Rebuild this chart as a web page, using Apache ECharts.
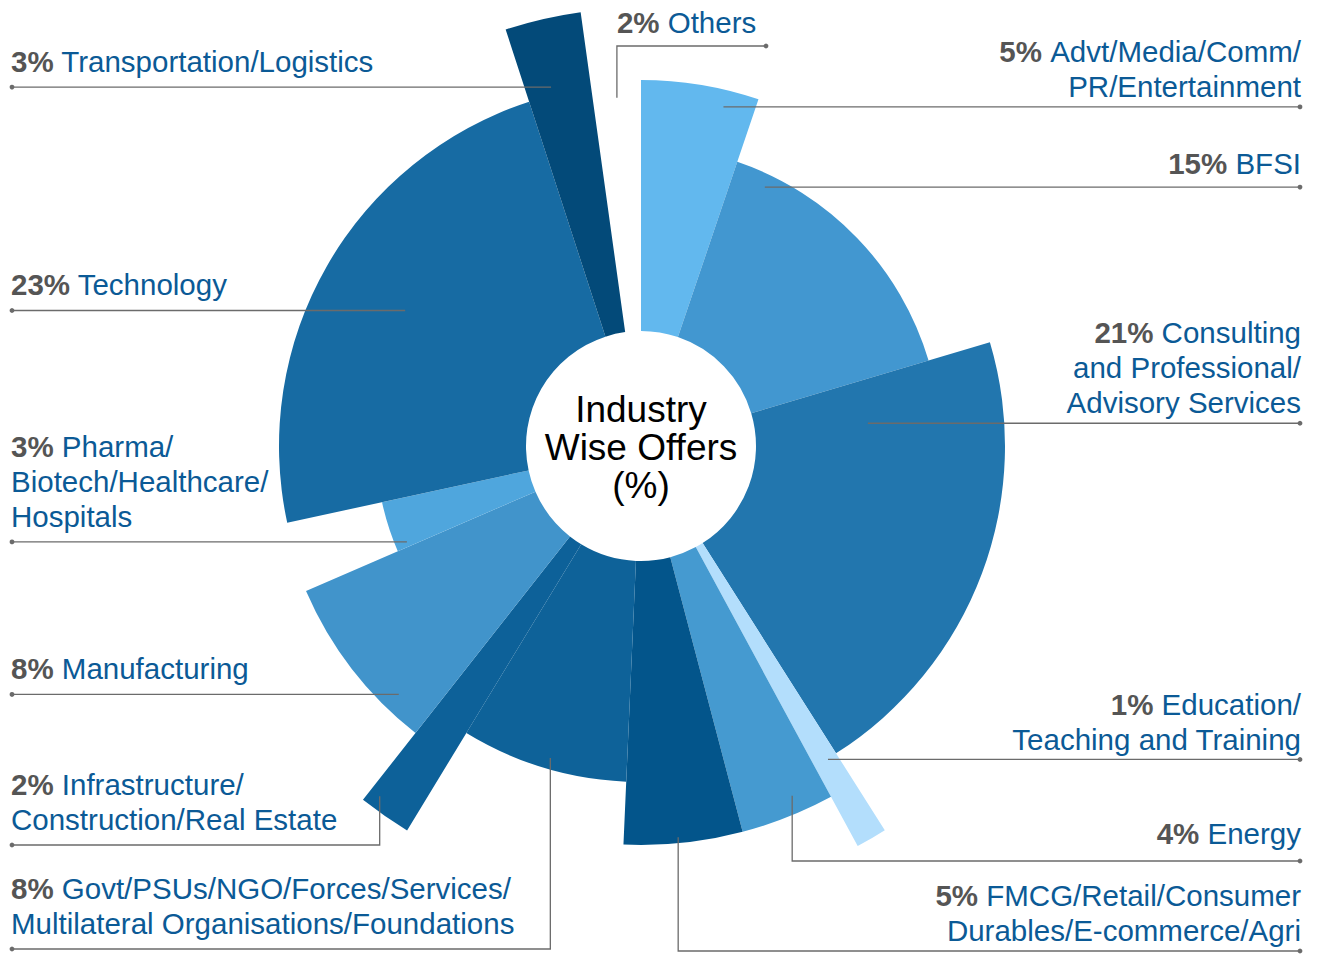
<!DOCTYPE html>
<html>
<head>
<meta charset="utf-8">
<title>Industry Wise Offers</title>
<script src="https://cdn.jsdelivr.net/npm/echarts@6/dist/echarts.min.js"></script>
<style>
  html, body { margin: 0; padding: 0; background: #fff; }
  #app { width: 1319px; height: 956px; }
</style>
</head>
<body>
<div id="app"></div>
<script>
// industries, clockwise from 12 o'clock
const industries = [
    'Advt/Media/Comm/\nPR/Entertainment',
    'BFSI',
    'Consulting\nand Professional/\nAdvisory Services',
    'Education/\nTeaching and Training',
    'Energy',
    'FMCG/Retail/Consumer\nDurables/E-commerce/Agri',
    'Govt/PSUs/NGO/Forces/Services/\nMultilateral Organisations/Foundations',
    'Infrastructure/\nConstruction/Real Estate',
    'Manufacturing',
    'Pharma/\nBiotech/Healthcare/\nHospitals',
    'Technology',
    'Transportation/Logistics',
    'Others'
];
// share of offers (%)
const shares = [5.2, 15.2, 20.6, 1.1, 3.8, 4.8, 8.0, 1.9, 7.9, 3.1, 23.4, 2.8, 2.2];
// how far each slice reaches out (radius axis units)
const reach = [366, 300, 364, 455, 399, 399, 336, 450, 365, 265, 362, 438, 350];

// styles
const palette = [
    '#62b8ee', '#4297d0', '#2276ae', '#b3defc', '#459ad0', '#03558b', '#0e6299',
    '#0d6199', '#4194cb', '#4fa6dd', '#176ba3', '#034a79', 'none'
];
const HOLE = 115;
const EDGE_LEFT = 12;
const EDGE_RIGHT = 1300;
const LINE_COLOR = '#6b6b6b';
const FONT = '"Liberation Sans", Arial, Helvetica, sans-serif';
const LABEL_SIZE = 29.5;

// where each leader line starts (radius + fraction across the slice) and how it runs
// gap = distance from the last text baseline to the line
const labelSpots = [
    { side: 'right', r: 349, at: 0.73, gap: 10.5 },
    { side: 'right', r: 287, at: 0.125, gap: 13.4 },
    { side: 'right', r: 228, at: 0.146, gap: 10.5 },
    { side: 'right', r: 365, at: 0.4, gap: 10.3 },
    { side: 'right', r: 381, at: 0.37, runY: 861, gap: 17.5 },
    { side: 'right', r: 393, at: 0.54, runY: 951, gap: 10.5 },
    { side: 'left', r: 325, at: 0.475, runY: 949, gap: 15.5 },
    { side: 'left', r: 437, at: 0.79, runY: 845, gap: 15.5 },
    { side: 'left', r: 347, at: 0.215, gap: 15.5 },
    { side: 'left', r: 253, at: 0.1, gap: 15.5 },
    { side: 'left', r: 272, at: 0.5, gap: 15.5 },
    { side: 'left', r: 370, at: 0.39, gap: 15.4 },
    { side: 'right', r: 349, at: 0.5, runY: 46, endX: 766, textAtAnchor: true, gap: 13.4 }
];

// cumulative start / end of each slice on the angle axis
let cursor = 0;
const sliceData = shares.map(function(s, i) {
    let item = [cursor, cursor + s, reach[i], i];
    cursor += s;
    return item;
});

function dist(a, b) {
    return Math.sqrt((a[0] - b[0]) * (a[0] - b[0]) + (a[1] - b[1]) * (a[1] - b[1]));
}

// draw one slice as a sector using the polar scales
function renderSlice(params, api) {
    let start = api.value(0);
    let end = api.value(1);
    let center = api.coord([0, start]);
    let inner = api.coord([HOLE, start]);
    let outer = api.coord([api.value(2), start]);
    let tail = api.coord([api.value(2), end]);
    let a0 = Math.atan2(outer[1] - center[1], outer[0] - center[0]);
    let a1 = Math.atan2(tail[1] - center[1], tail[0] - center[0]);
    if (a1 <= a0) {
        a1 += Math.PI * 2;
    }
    return {
        type: 'sector',
        shape: {
            cx: center[0], cy: center[1],
            r0: dist(inner, center), r: dist(outer, center),
            startAngle: a0, endAngle: a1, clockwise: true
        },
        style: { fill: palette[api.value(3)] }
    };
}

// leader line + dot + text for one slice
function renderLabel(params, api) {
    let i = api.value(3);
    let spot = labelSpots[i];
    let start = api.value(0);
    let end = api.value(1);
    let p = api.coord([spot.r, start + (end - start) * spot.at]);
    let bent = spot.runY != null;
    let runY = bent ? spot.runY : p[1];
    let endX = spot.endX != null ? spot.endX : (spot.side === 'left' ? EDGE_LEFT : EDGE_RIGHT);
    let points = bent ? [p, [p[0], runY], [endX, runY]] : [p, [endX, runY]];
    let textX = spot.textAtAnchor ? p[0] : (spot.side === 'left' ? endX - 1 : endX + 1);
    let align = (spot.side === 'left' || spot.textAtAnchor) ? 'left' : 'right';
    let pct = Math.round(shares[i]) + '%';
    return {
        type: 'group',
        children: [{
            type: 'polyline',
            shape: { points: points },
            style: { stroke: LINE_COLOR, lineWidth: 1.3, fill: 'none' }
        }, {
            type: 'circle',
            shape: { cx: endX, cy: runY, r: 2.4 },
            style: { fill: LINE_COLOR }
        }, {
            type: 'text',
            x: textX,
            // text box bottom sits ~7.5px under the last baseline
            y: runY - spot.gap + 7.5,
            style: {
                text: '{p|' + pct + '}{n| ' + industries[i] + '}',
                align: align,
                verticalAlign: 'bottom',
                fill: '#0b5a96',
                font: LABEL_SIZE + 'px ' + FONT,
                lineHeight: 35,
                rich: {
                    p: { fill: '#555555', fontSize: LABEL_SIZE, fontWeight: 'bold', fontFamily: FONT, lineHeight: 35 },
                    n: { fill: '#0b5a96', fontSize: LABEL_SIZE, fontFamily: FONT, lineHeight: 35 }
                }
            }
        }]
    };
}

let myChart = echarts.init(document.getElementById('app'), null, { renderer: 'svg' });

myChart.setOption({
    backgroundColor: '#ffffff',
    animation: false,
    polar: {
        center: [641, 446],
        radius: 460
    },
    angleAxis: {
        type: 'value', min: 0, max: 100, startAngle: 90, clockwise: true,
        show: false, axisLine: { show: false }, splitLine: { show: false },
        axisLabel: { show: false }, axisTick: { show: false }
    },
    radiusAxis: {
        type: 'value', min: 0, max: 460,
        show: false, axisLine: { show: false }, splitLine: { show: false },
        axisLabel: { show: false }, axisTick: { show: false }
    },
    graphic: [{
        type: 'text',
        x: 641,
        y: 447,
        style: {
            text: 'Industry\nWise Offers\n(%)',
            align: 'center',
            verticalAlign: 'middle',
            fill: '#000000',
            font: '37px ' + FONT,
            lineHeight: 38
        }
    }],
    series: [{
        name: 'slices',
        type: 'custom',
        coordinateSystem: 'polar',
        encode: { angle: [0, 1], radius: 2 },
        renderItem: renderSlice,
        data: sliceData,
        z: 2
    }, {
        name: 'labels',
        type: 'custom',
        coordinateSystem: 'polar',
        encode: { angle: [0, 1], radius: 2 },
        renderItem: renderLabel,
        data: sliceData,
        z: 5
    }]
});
</script>
</body>
</html>
